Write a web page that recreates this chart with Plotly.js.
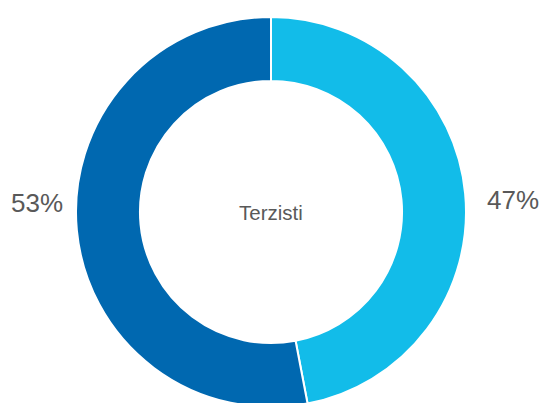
<!DOCTYPE html>
<html><head><meta charset="utf-8">
<script src="https://cdn.plot.ly/plotly-3.0.1.min.js"></script>
<style>html,body{margin:0;padding:0;overflow:hidden;background:#fff}#c{width:542px;height:412px}</style>
</head><body><div id="c"></div>
<script>
const labels = ["Quota A", "Quota B"];
const values = [47, 53];
const colors = ["#12BCE9", "#0068B0"];
const centerText = "Terzisti";

const W = 542, H = 412;
const cx = 271, cy = 212, R = 195;
const total = values.reduce((a, b) => a + b, 0);
const pct = values.map(v => Math.round(v / total * 100) + "%");
const font = {family: "Liberation Sans, Arial, sans-serif", size: 26, color: "#595959"};
// label anchor positions (layout), in pixels from top-left
const labelPos = [[513, 200], [37, 203]];

Plotly.newPlot("c", [{
  type: "pie",
  labels: labels,
  values: values,
  sort: false,
  direction: "clockwise",
  rotation: 0,
  hole: 0.672,
  marker: {colors: colors, line: {color: "#ffffff", width: 2}},
  textinfo: "none",
  hoverinfo: "none",
  domain: {x: [(cx - R) / W, (cx + R) / W], y: [(H - cy - R) / H, (H - cy + R) / H]}
}], {
  width: W, height: H,
  margin: {l: 0, r: 0, t: 0, b: 0},
  showlegend: false,
  paper_bgcolor: "#ffffff",
  annotations: [{
    text: centerText, showarrow: false, xref: "paper", yref: "paper",
    x: cx / W, y: (H - cy) / H, xanchor: "center", yanchor: "middle",
    font: {family: "Liberation Sans, Arial, sans-serif", size: 20.5, color: "#595959"}
  }].concat(pct.map((t, i) => ({
    text: t, showarrow: false, xref: "paper", yref: "paper",
    x: labelPos[i][0] / W, y: (H - labelPos[i][1]) / H,
    xanchor: "center", yanchor: "middle", font: font
  })))
}, {staticPlot: true});
</script></body></html>
